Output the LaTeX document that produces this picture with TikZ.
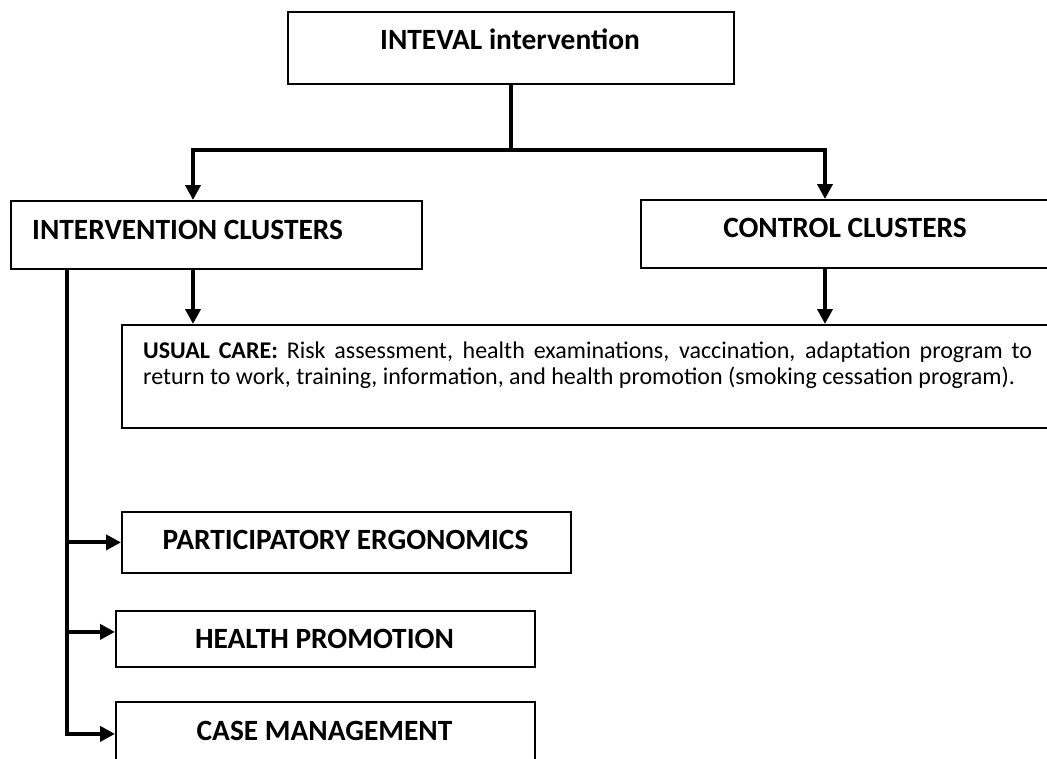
\documentclass[tikz,border=0pt]{standalone}
\usepackage{fontspec}
\setmainfont{Carlito}
\usetikzlibrary{arrows.meta}

\begin{document}
\begin{tikzpicture}[x=1pt,y=-1pt,
  box/.style={draw, line width=1.8pt, inner sep=0pt, anchor=north west},
  conn/.style={line width=4pt},
  tip/.style={-{Triangle[length=15pt,width=15pt]}},
  heading/.style={font=\fontsize{29.4}{34}\selectfont\bfseries, inner sep=0pt, anchor=base},
  bodytext/.style={font=\fontsize{24}{26}\selectfont, inner sep=0pt}]
\useasboundingbox (0,0) rectangle (1047,758);

% frames
\node[box, minimum width=446pt, minimum height=72pt] (top) at (287,11) {};
\node[box, minimum width=411pt, minimum height=68pt] (interv) at (10,200) {};
\node[box, minimum width=420pt, minimum height=68pt] (control) at (640,199) {};
\node[box, minimum width=939pt, minimum height=103pt] (usual) at (121,324) {};
\node[box, minimum width=449pt, minimum height=61pt] (part) at (121,511) {};
\node[box, minimum width=419pt, minimum height=56pt] (health) at (115,610) {};
\node[box, minimum width=419pt, minimum height=64pt] (case) at (115,701) {};

% labels
\node[heading] (toplabel) at (510,49) {INTEVAL intervention};
\node[heading, anchor=base west] (intervlabel) at (32,239) {INTERVENTION CLUSTERS};
\node[heading] (controllabel) at (845,237) {CONTROL CLUSTERS};
\node[heading] (partlabel) at (345.5,549) {PARTICIPATORY ERGONOMICS};
\node[heading] (healthlabel) at (324.5,648) {HEALTH PROMOTION};
\node[heading] (caselabel) at (324.5,740) {CASE MANAGEMENT};
\node[bodytext, anchor=base west, text width=889pt, align=justify] (usuallabel) at (143,358)
  {\textbf{USUAL CARE:} Risk assessment, health examinations, vaccination, adaptation program to\linebreak
   return to work, training, information, and health promotion (smoking cessation program).};

% split below the top box
\coordinate (split) at ([yshift=-65pt]top.south);
\draw[conn] (top.south) -- (split);
\draw[conn, tip] (split) -| ([xshift=183pt]interv.north west);
\draw[conn, tip] (split) -| ([xshift=185pt]control.north west);

% usual care from both arms
\draw[conn, tip] ([xshift=183pt]interv.south west) -- ([xshift=183pt]interv.south west |- usual.north);
\draw[conn, tip] ([xshift=185pt]control.south west) -- ([xshift=185pt]control.south west |- usual.north);

% intervention components
\coordinate (trunk) at ([xshift=57pt]interv.south west);
\coordinate (healthin) at ([yshift=7pt]health.west);
\draw[conn, tip] (trunk) |- (case.west);
\draw[conn, tip] (trunk |- part.west) -- (part.west);
\draw[conn, tip] (trunk |- healthin) -- (healthin);
\end{tikzpicture}
\end{document}
